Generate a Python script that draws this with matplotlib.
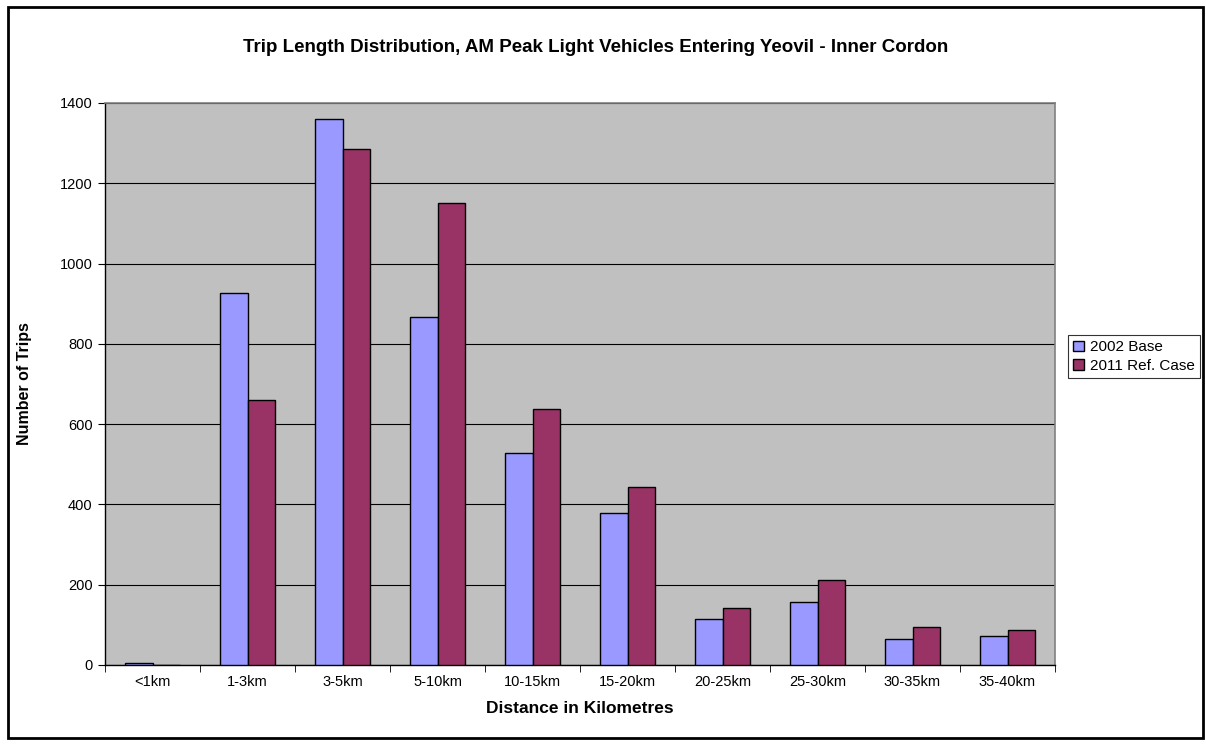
import matplotlib
matplotlib.use("Agg")
import matplotlib.pyplot as plt
import numpy as np
from matplotlib.patches import Rectangle

categories = ["<1km", "1-3km", "3-5km", "5-10km", "10-15km", "15-20km",
              "20-25km", "25-30km", "30-35km", "35-40km"]
base_2002 = [4, 927, 1360, 867, 528, 379, 115, 157, 65, 72]
ref_2011 = [0, 660, 1285, 1151, 638, 443, 142, 212, 95, 87]
y_ticks = [0, 200, 400, 600, 800, 1000, 1200, 1400]

plt.rcParams['font.family'] = ['Liberation Sans', 'DejaVu Sans']

fig = plt.figure(figsize=(12.06, 7.45), dpi=100)
ax = fig.add_axes([105/1206, 1-665/745, (1055-105)/1206, (665-103)/745])
ax.set_facecolor('#C0C0C0')

x = np.arange(len(categories))
w = 0.29
ax.bar(x - w/2, base_2002, w, color='#9999FF', edgecolor='black', linewidth=1, label='2002 Base', zorder=3)
ax.bar(x + w/2, ref_2011, w, color='#993366', edgecolor='black', linewidth=1, label='2011 Ref. Case', zorder=3)

ax.set_xlim(-0.5, len(categories) - 0.5)
ax.set_ylim(0, 1400)
ax.set_yticks(y_ticks)
ax.set_yticklabels([str(v) for v in y_ticks], fontsize=10.5)
ax.yaxis.grid(True, color='black', linewidth=0.8, zorder=1)
ax.set_axisbelow(True)

ax.set_xticks(x)
ax.set_xticklabels(categories, fontsize=10.5)
ax.tick_params(axis='x', which='major', length=0, pad=7)
ax.set_xticks(np.arange(-0.5, len(categories), 1.0), minor=True)
ax.tick_params(axis='x', which='minor', length=5, direction='out', color='black')
ax.tick_params(axis='y', length=5, direction='out', color='black', pad=4)

for s in ['top', 'right']:
    ax.spines[s].set_color('#808080')
    ax.spines[s].set_linewidth(1.2)
for s in ['left', 'bottom']:
    ax.spines[s].set_color('black')
    ax.spines[s].set_linewidth(1.0)

ax.set_xlabel('Distance in Kilometres', fontsize=12.5, fontweight='bold', labelpad=9)
ax.set_ylabel('Number of Trips', fontsize=11.5, fontweight='bold', labelpad=20)

fig.text(596/1206, 1-47/745, 'Trip Length Distribution, AM Peak Light Vehicles Entering Yeovil - Inner Cordon',
         ha='center', va='center', fontsize=13.5, fontweight='bold')

leg = fig.legend(loc='upper left', bbox_to_anchor=(1068/1206, 1-335/745), fontsize=11,
                 frameon=True, fancybox=False, edgecolor='black', handlelength=0.7,
                 handleheight=0.7, handletextpad=0.4, borderpad=0.35, labelspacing=0.3,
                 borderaxespad=0)
leg.get_frame().set_linewidth(0.8)

fig.patches.append(Rectangle((8/1206, 1-738/745), (1203-8)/1206, (738-7)/745,
                             transform=fig.transFigure, fill=False, edgecolor='black', linewidth=2))

fig.savefig('out.png', dpi=100)
